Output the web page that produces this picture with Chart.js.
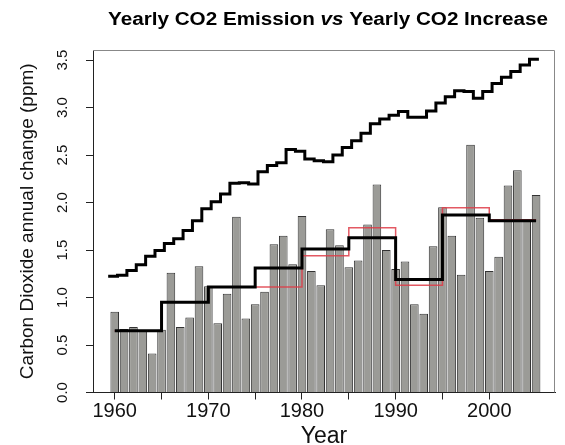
<!DOCTYPE html>
<html>
<head>
<meta charset="utf-8">
<script src="https://cdn.jsdelivr.net/npm/chart.js@4.4.1/dist/chart.umd.min.js"></script>
<style>
  html, body { margin: 0; padding: 0; background: #fff; }
</style>
</head>
<body>
<canvas id="co2Chart" width="565" height="445"></canvas>
<script>
const FONT = "'Liberation Sans', Arial, Helvetica, sans-serif";

// yearly CO2 increase (bars)
const years = [1960, 1961, 1962, 1963, 1964, 1965, 1966, 1967, 1968, 1969,
  1970, 1971, 1972, 1973, 1974, 1975, 1976, 1977, 1978, 1979,
  1980, 1981, 1982, 1983, 1984, 1985, 1986, 1987, 1988, 1989,
  1990, 1991, 1992, 1993, 1994, 1995, 1996, 1997, 1998, 1999,
  2000, 2001, 2002, 2003, 2004, 2005];
const increase = [0.85, 0.67, 0.69, 0.65, 0.41, 0.66, 1.26, 0.69, 0.79, 1.33,
  1.12, 0.73, 1.04, 1.85, 0.78, 0.93, 1.06, 1.56, 1.65, 1.35,
  1.86, 1.28, 1.13, 1.72, 1.55, 1.32, 1.39, 1.77, 2.19, 1.50,
  1.30, 1.38, 0.93, 0.83, 1.54, 1.95, 1.65, 1.24, 2.61, 1.84,
  1.28, 1.43, 2.18, 2.34, 1.81, 2.08];

// yearly emission (scaled to ppm axis), one step per year
const emissionYears = [1959, 1960, 1961, 1962, 1963, 1964, 1965, 1966, 1967, 1968,
  1969, 1970, 1971, 1972, 1973, 1974, 1975, 1976, 1977, 1978,
  1979, 1980, 1981, 1982, 1983, 1984, 1985, 1986, 1987, 1988,
  1989, 1990, 1991, 1992, 1993, 1994, 1995, 1996, 1997, 1998,
  1999, 2000, 2001, 2002, 2003, 2004, 2005];
const emission = [1.225, 1.235, 1.285, 1.345, 1.435, 1.495, 1.57, 1.62, 1.705, 1.81,
  1.935, 2.01, 2.09, 2.205, 2.21, 2.195, 2.325, 2.39, 2.42, 2.56,
  2.54, 2.46, 2.44, 2.43, 2.50, 2.58, 2.65, 2.73, 2.83, 2.88,
  2.92, 2.96, 2.90, 2.90, 2.965, 3.05, 3.115, 3.178, 3.17, 3.10,
  3.17, 3.255, 3.32, 3.38, 3.45, 3.51];
const emissionShift = 0.3; // steps sit a little right of the year marks in the source

// 5-year means
const periods = [1960, 1965, 1970, 1975, 1980, 1985, 1990, 1995, 2000, 2005];
const meanIncrease = [0.65, 0.95, 1.11, 1.31, 1.51, 1.63, 1.19, 1.87, 1.81];
const meanEmission = [0.65, 0.95, 1.11, 1.11, 1.44, 1.735, 1.13, 1.945, 1.82];

const yTicks = [0, 0.5, 1, 1.5, 2, 2.5, 3, 3.5];
const xTicks = [1960, 1965, 1970, 1975, 1980, 1985, 1990, 1995, 2000];

function stepData(xs, vals, shift) {
  // last x closes the final step with the last value
  return xs.map((x, i) => ({ x: x + (shift || 0), y: vals[Math.min(i, vals.length - 1)] }));
}

const titlePlugin = {
  id: "mixedTitle",
  afterDraw(chart) {
    const ctx = chart.ctx;
    const parts = [
      ["Yearly CO2 Emission ", "bold"],
      ["vs", "italic bold"],
      [" Yearly CO2 Increase", "bold"]
    ];
    ctx.save();
    let total = 0;
    parts.forEach(p => { ctx.font = p[1] + " 18px " + FONT; total += ctx.measureText(p[0]).width; });
    // the original title is set wide: stretch it to the same span
    const stretch = 440 / total;
    ctx.translate(328 - 220, 25);
    ctx.scale(stretch, 1);
    let x = 0;
    ctx.fillStyle = "#000";
    ctx.textBaseline = "alphabetic";
    parts.forEach(p => {
      ctx.font = p[1] + " 18px " + FONT;
      ctx.fillText(p[0], x, 0);
      x += ctx.measureText(p[0]).width;
    });
    ctx.restore();

    // top and right side of the box
    const a = chart.chartArea;
    ctx.save();
    ctx.strokeStyle = "#888";
    ctx.lineWidth = 1;
    ctx.beginPath();
    ctx.moveTo(a.left, a.top + 0.5);
    ctx.lineTo(a.right - 0.5, a.top + 0.5);
    ctx.lineTo(a.right - 0.5, a.bottom);
    ctx.stroke();
    ctx.restore();
  }
};

const config = {
  type: "bar",
  data: {
    datasets: [
      {
        label: "Mean increase",
        type: "line",
        data: stepData(periods, meanIncrease),
        stepped: true,
        borderColor: "#000",
        borderWidth: 3,
        pointRadius: 0,
        fill: false,
        order: 1
      },
      {
        label: "Mean emission",
        type: "line",
        data: stepData(periods, meanEmission),
        stepped: true,
        borderColor: "rgba(222, 60, 72, 0.85)",
        borderWidth: 1.5,
        pointRadius: 0,
        fill: false,
        order: 2
      },
      {
        label: "Emission",
        type: "line",
        data: stepData(emissionYears, emission, emissionShift),
        stepped: true,
        borderColor: "#000",
        borderWidth: 3,
        pointRadius: 0,
        fill: false,
        order: 3
      },
      {
        label: "Increase",
        data: years.map((y, i) => ({ x: y, y: increase[i] })),
        backgroundColor: "#9b9b97",
        borderColor: "#333",
        borderWidth: 1,
        barPercentage: 0.92,
        categoryPercentage: 1,
        order: 4
      }
    ]
  },
  options: {
    responsive: false,
    animation: false,
    layout: { padding: { top: 50, right: 10, left: 0, bottom: 0 } },
    plugins: { legend: { display: false }, tooltip: { enabled: false } },
    scales: {
      x: {
        type: "linear",
        min: 1957.68,
        max: 2007.02,
        offset: false,
        afterBuildTicks: s => { s.ticks = xTicks.map(v => ({ value: v })); },
        afterFit: s => { s.height = 52.5; },
        grid: { drawOnChartArea: false, offset: false, tickLength: 7, tickColor: "#222" },
        border: { color: "#222", width: 1 },
        ticks: {
          autoSkip: false,
          maxRotation: 0,
          padding: 0,
          color: "#111",
          font: { family: FONT, size: 20 },
          callback: v => (v % 10 === 0 ? String(v) : "")
        },
        title: {
          display: true,
          text: "Year",
          color: "#111",
          font: { family: FONT, size: 23, lineHeight: 0.7 },
          padding: { top: 0, bottom: 0 }
        }
      },
      y: {
        min: 0,
        max: 3.607,
        afterBuildTicks: s => { s.ticks = yTicks.map(v => ({ value: v })); },
        afterFit: s => { s.width = 93; },
        grid: { drawOnChartArea: false, tickLength: 7, tickColor: "#222" },
        border: { color: "#222", width: 1 },
        ticks: {
          minRotation: 90,
          maxRotation: 90,
          crossAlign: "center",
          padding: 13,
          color: "#111",
          font: { family: FONT, size: 15 },
          callback: v => v.toFixed(1)
        },
        title: {
          display: true,
          text: "Carbon Dioxide annual change (ppm)",
          color: "#111",
          font: { family: FONT, size: 19 },
          padding: { top: 16, bottom: 0 }
        }
      }
    }
  },
  plugins: [titlePlugin]
};

const co2Chart = new Chart(document.getElementById("co2Chart"), config);
</script>
</body>
</html>
